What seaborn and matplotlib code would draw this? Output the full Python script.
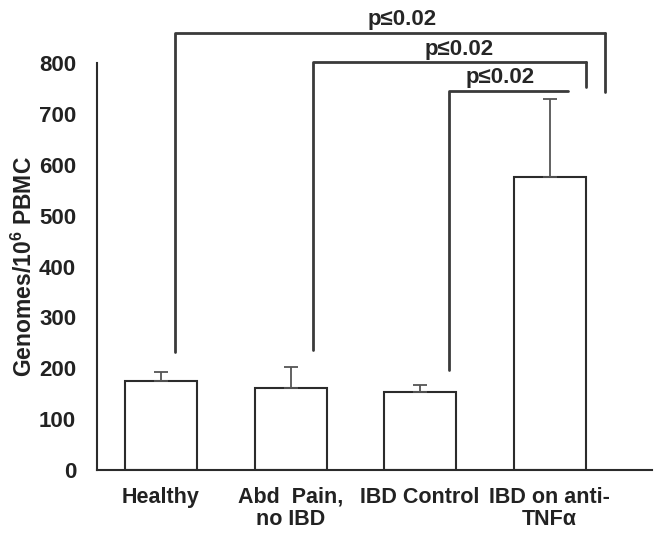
import numpy as np
import seaborn as sns
import matplotlib.pyplot as plt

# values
groups = ['Healthy', 'Abd  Pain,\nno IBD', 'IBD Control', 'IBD on anti-\nTNF\u03b1']
means = [175, 162, 153, 576]
errors = [18, 40, 15, 153]

# significance brackets: (left x, right x, height, left leg bottom, right leg bottom)
brackets = [
    (0.11, 3.43, 859, 232, 743),
    (1.17, 3.28, 802, 236, 752),
    (2.22, 3.14, 745, 196, None),
]
p_labels = ['p\u22640.02', 'p\u22640.02', 'p\u22640.02']

sns.set_style('white')
plt.rcParams['font.family'] = ['Liberation Sans', 'DejaVu Sans']
plt.rcParams['mathtext.fontset'] = 'custom'
plt.rcParams['mathtext.bf'] = 'Liberation Sans:bold'
plt.rcParams['mathtext.rm'] = 'Liberation Sans:bold'

fig = plt.figure(figsize=(6.62, 5.41), dpi=100)
ax = fig.add_axes([0.1465, 0.131, 0.8385, 0.7525])

line_col = '#2b2b2b'
sns.barplot(x=groups, y=means, color='white', edgecolor=line_col,
            linewidth=1.5, width=0.556, ax=ax)
ax.errorbar(np.arange(len(groups)), means,
            yerr=[np.zeros(len(errors)), errors],
            fmt='none', ecolor='#555555', elinewidth=1.3, capsize=5, capthick=1.3)

for (x0, x1, h, lb, rb) in brackets:
    ax.plot([x0, x0, x1], [lb, h, h], color='#3a3a3a', lw=2, clip_on=False)
    if rb is not None:
        ax.plot([x1, x1], [h, rb], color='#3a3a3a', lw=2, clip_on=False)

ax.text(1.86, 886, p_labels[0], ha='center', va='center', fontsize=16, fontweight='bold', clip_on=False)
ax.text(2.3, 826, p_labels[1], ha='center', va='center', fontsize=16, fontweight='bold', clip_on=False)
ax.text(2.62, 771, p_labels[2], ha='center', va='center', fontsize=16, fontweight='bold', clip_on=False)

ax.set_ylim(0, 800)
ax.set_xlim(-0.494, 3.79)
ax.set_yticks(range(0, 801, 100))
ax.tick_params(axis='both', length=0)
ax.tick_params(axis='y', labelsize=16, pad=15)
ax.tick_params(axis='x', labelsize=15.5, pad=12)
for lbl in ax.get_xticklabels() + ax.get_yticklabels():
    lbl.set_fontweight('bold')
    lbl.set_color('#222222')
for lbl in ax.get_xticklabels():
    lbl.set_linespacing(1.05)
ax.set_ylabel(r'Genomes/10$^{6}$ PBMC', fontsize=16.5, fontweight='bold', color='#222222', labelpad=1.5)

sns.despine(ax=ax)
for side in ['left', 'bottom']:
    ax.spines[side].set_color(line_col)
    ax.spines[side].set_linewidth(1.5)

fig.savefig('out.png', dpi=100)
